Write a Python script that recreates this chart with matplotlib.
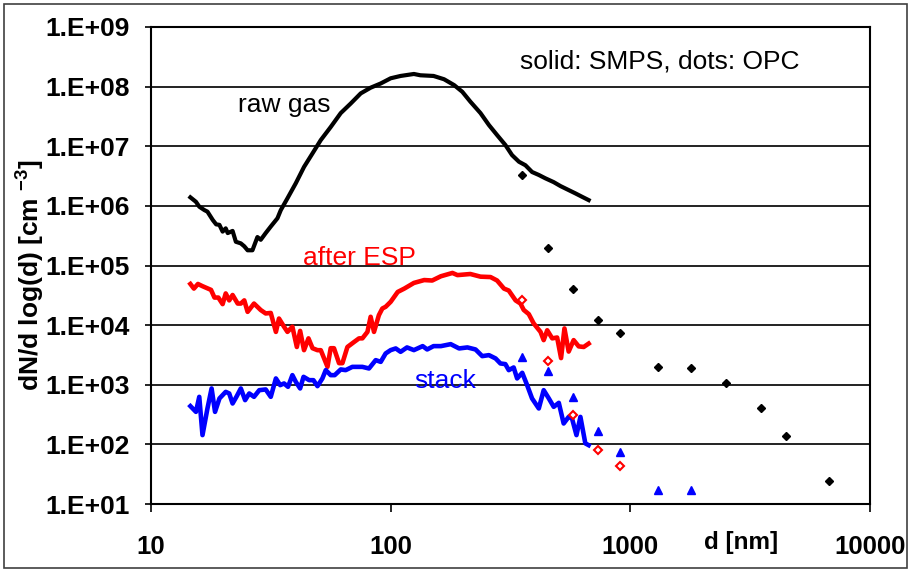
import numpy as np
import matplotlib.pyplot as plt
from matplotlib.patches import Rectangle
from matplotlib.ticker import FixedLocator, FixedFormatter, NullLocator

plt.rcParams['font.family'] = ['Liberation Sans', 'DejaVu Sans']
plt.rcParams['mathtext.fontset'] = 'custom'
plt.rcParams['mathtext.rm'] = 'Liberation Sans'
plt.rcParams['mathtext.bf'] = 'Liberation Sans:bold'

# SMPS curves (d in nm, dN/dlog(d) in cm^-3)
raw_d = [14.6, 15.4, 15.9, 16.7, 17.2, 18.1, 18.7, 19.3, 19.9, 20.5, 20.9, 21.9, 22.6, 23.7, 24.5,
         25.3, 26.5, 27.8, 28.7, 30.1, 31.6, 33.7, 34.8, 37.1, 40.2, 43.5, 47.2, 51.1, 56.2, 61.9,
         68.1, 75.0, 82.5, 90.9, 100, 110, 125, 133, 151, 167, 184, 199, 215, 237, 257,
         278, 301, 321, 343, 365, 389, 415, 442, 479, 511, 553, 590, 629, 670]
raw_v = [1.39e6, 1.17e6, 9.7e5, 8.5e5, 8.0e5, 5.8e5, 4.9e5, 4.8e5, 3.7e5, 4.2e5, 3.5e5, 3.8e5, 2.5e5, 2.35e5, 2.1e5,
         1.8e5, 1.8e5, 3.0e5, 2.7e5, 3.5e5, 4.5e5, 6.2e5, 8.5e5, 1.34e6, 2.4e6, 4.5e6, 7.6e6, 1.27e7, 2.1e7, 3.6e7,
         5.2e7, 7.7e7, 9.6e7, 1.13e8, 1.38e8, 1.51e8, 1.63e8, 1.55e8, 1.51e8, 1.33e8, 1.06e8, 8.2e7, 5.6e7, 3.6e7, 2.27e7,
         1.54e7, 1.05e7, 7.1e6, 5.5e6, 4.8e6, 3.7e6, 3.3e6, 2.9e6, 2.5e6, 2.15e6, 1.84e6, 1.62e6, 1.42e6, 1.25e6]

esp_d = [14.6, 15.1, 15.7, 16.4, 17.8, 18.4, 19.1, 19.9, 20.5, 21.2, 21.9, 23.0, 23.7, 24.5, 25.3,
         26.9, 28.7, 30.1, 31.6, 33.2, 34.2, 35.9, 37.1, 38.9, 40.6, 41.9, 43.5, 45.4, 47.2, 49.5,
         51.1, 54.5, 56.2, 58.0, 60.9, 62.9, 66.0, 70.3, 73.8, 76.2, 80.0, 82.5, 85.2, 89.3, 92.3,
         95.3, 100, 107, 114, 125, 138, 149, 162, 181, 190, 215, 237, 261, 278,
         297, 311, 332, 348, 359, 377, 395, 422, 435, 450, 472, 495, 514, 531, 553,
         580, 609, 639, 670]
esp_v = [4.9e4, 4.1e4, 4.9e4, 4.5e4, 3.9e4, 2.9e4, 2.9e4, 2.25e4, 3.4e4, 2.6e4, 3.2e4, 2.3e4, 2.3e4, 2.6e4, 1.67e4,
         2.3e4, 1.79e4, 1.57e4, 1.6e4, 7.7e3, 1.29e4, 9.4e3, 7.7e3, 9.4e3, 4.3e3, 8.0e3, 3.8e3, 6.0e3, 4.1e3, 3.8e3,
         3.8e3, 2.0e3, 4.1e3, 4.1e3, 2.3e3, 2.3e3, 4.3e3, 5.2e3, 6.0e3, 6.0e3, 7.7e3, 1.38e4, 7.7e3, 1.47e4, 1.9e4,
         2.03e4, 2.46e4, 3.6e4, 4.1e4, 5.1e4, 5.7e4, 5.6e4, 6.6e4, 7.5e4, 6.9e4, 7.2e4, 6.5e4, 6.4e4, 5.6e4,
         4.1e4, 3.8e4, 2.6e4, 2.3e4, 1.8e4, 1.53e4, 1.07e4, 7.7e3, 5.6e3, 8.2e3, 6.0e3, 6.2e3, 2.8e3, 8.8e3, 3.6e3,
         5.6e3, 4.4e3, 4.3e3, 4.9e3]

stack_d = [14.6, 15.4, 15.9, 16.4, 17.2, 17.9, 18.5, 19.3, 20.5, 21.2, 21.9, 22.8, 23.7, 24.7, 25.7,
           26.9, 28.3, 30.1, 31.6, 33.2, 34.6, 35.9, 37.3, 38.9, 40.2, 41.9, 43.3, 45.7, 47.6, 49.5,
           51.9, 53.6, 56.2, 58.4, 61.9, 64.9, 69.2, 76.2, 81.2, 86.6, 90.9, 95.3, 100, 105, 110,
           117, 125, 136, 142, 151, 162, 178, 193, 209, 226, 241, 257, 274, 287,
           301, 311, 326, 337, 354, 371, 389, 415, 435, 457, 479, 503, 527, 553, 571,
           596, 619, 649, 670]
stack_v = [438, 351, 627, 143, 400, 867, 351, 589, 760, 714, 485, 644, 867, 552, 714,
           627, 811, 834, 627, 1276, 985, 1052, 923, 1449, 1119, 867, 1358, 1194, 1194, 948,
           1276, 1758, 1449, 1449, 1807, 1758, 1995, 1995, 1875, 2588, 2421, 3350, 3811, 4064, 3565,
           4227, 3811, 4446, 3908, 4446, 4446, 4797, 4064, 4227, 3908, 3020, 3139, 2761, 2276,
           2218, 1758, 1950, 1276, 1585, 985, 589, 400, 811, 589, 426, 497, 224, 289, 272,
           143, 289, 104, 97]

# OPC points
opc_d = [352, 454, 579, 731, 906, 1303, 1799, 2518, 3515, 4478, 6745]
raw_opc = [3.3e6, 2.0e5, 4.0e4, 1.23e4, 7.3e3, 1.97e3, 1.92e3, 1.06e3, 400, 139, 24]
esp_opc_d = [352, 454, 579, 731, 906]
esp_opc = [2.6e4, 2.5e3, 305, 82, 43]
stack_opc_d = [352, 454, 579, 731, 906, 1303, 1799]
stack_opc = [2.87e3, 1.71e3, 612, 166, 75, 17.5, 17.5]

y_ticks = [1e1, 1e2, 1e3, 1e4, 1e5, 1e6, 1e7, 1e8, 1e9]
y_tick_labels = ['1.E+01', '1.E+02', '1.E+03', '1.E+04', '1.E+05', '1.E+06', '1.E+07', '1.E+08', '1.E+09']
x_ticks = [10, 100, 1000, 10000]
x_tick_labels = ['10', '100', '1000', '10000']

W, H = 910, 572
fig = plt.figure(figsize=(W / 100, H / 100), dpi=100)
ax = fig.add_axes([151 / W, 68 / H, 719 / W, 477 / H])
ax.set_xscale('log')
ax.set_yscale('log')
ax.set_xlim(10, 10000)
ax.set_ylim(10, 1e9)

ax.plot(raw_d, raw_v, color='black', lw=3.0, solid_joinstyle='round', zorder=3)
ax.plot(esp_d, esp_v, color='#ff0000', lw=3.3, solid_joinstyle='round', zorder=3)
ax.plot(stack_d, stack_v, color='#0000ff', lw=3.3, solid_joinstyle='round', zorder=3)

ax.plot(opc_d, raw_opc, 'D', color='black', ms=4.2, zorder=4)
ax.plot(esp_opc_d, esp_opc, 'D', mfc='white', mec='#ff0000', mew=1.5, ms=3.8, zorder=4)
ax.plot(stack_opc_d, stack_opc, '^', color='#0000ff', ms=6, zorder=4)

ax.xaxis.set_major_locator(FixedLocator(x_ticks))
ax.xaxis.set_major_formatter(FixedFormatter(x_tick_labels))
ax.yaxis.set_major_locator(FixedLocator(y_ticks))
ax.yaxis.set_major_formatter(FixedFormatter(y_tick_labels))
ax.xaxis.set_minor_locator(NullLocator())
ax.yaxis.set_minor_locator(NullLocator())

ax.grid(axis='y', color='#222222', lw=1.4)
ax.set_axisbelow(True)
for s in ax.spines.values():
    s.set_linewidth(1.5)

ax.tick_params(axis='y', direction='out', length=4.5, width=1.2, pad=11, labelsize=19)
ax.tick_params(axis='x', direction='out', length=6, width=1.2, pad=16, labelsize=18.5)
plt.setp(ax.get_yticklabels(), fontweight='bold')
plt.setp(ax.get_xticklabels(), fontweight='bold')

ax.set_ylabel(r'dN/d log(d) [cm $^{\mathbf{-3}}$]', fontsize=19, fontweight='bold')
ax.yaxis.set_label_coords(-0.146, 0.48)

ax.text(2030, -0.08, 'd [nm]', transform=ax.get_xaxis_transform(), fontsize=17.5, fontweight='bold',
        ha='left', va='center')

ax.text(23.0, 3.75e7, 'raw gas', fontsize=19, color='black', ha='left', va='baseline')
ax.text(42.9, 1.02e5, 'after ESP', fontsize=19, color='#ff0000', ha='left', va='baseline')
ax.text(125, 8.8e2, 'stack', fontsize=19, color='#0000ff', ha='left', va='baseline')
ax.text(348, 2.03e8, 'solid: SMPS, dots: OPC', fontsize=19, color='black', ha='left', va='baseline')

fig.patches.append(Rectangle((4 / W, 4 / H), 903 / W, 564 / H, transform=fig.transFigure,
                             fill=False, ec='#404040', lw=1.2))

fig.savefig('out.png', dpi=100)
